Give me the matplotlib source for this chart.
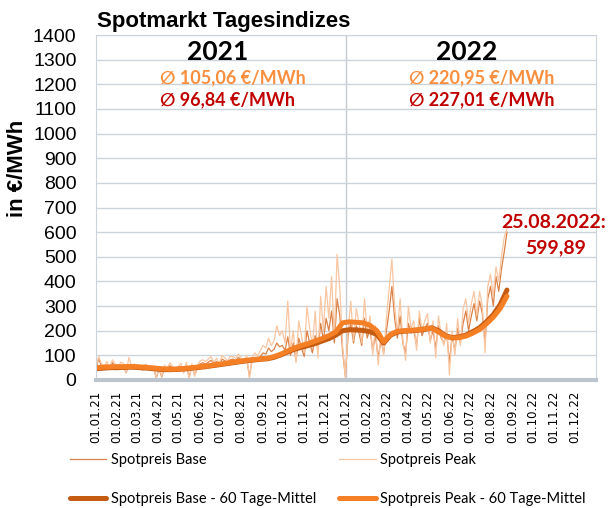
import matplotlib
matplotlib.use('Agg')
import matplotlib.pyplot as plt
import matplotlib.dates as mdates
import pandas as pd

# daily spot prices (every 4th day from 01.01.2021)
base = [45, 88, 55, 50, 62, 48, 70, 55, 42, 60,
        55, 30, 62, 48, 58, 45, 52, 40, 55, 50,
        42, 50, 8, 46, 12, 52, 45, 58, 48, 40,
        50, 55, 35, 60, 10, 58, 20, 48, 65, 70,
        65, 72, 80, 68, 75, 62, 85, 78, 70, 82,
        85, 78, 92, 80, 70, 88, 15, 82, 90, 85,
        95, 110, 105, 130, 115, 125, 150, 135, 140, 120,
        175, 100, 150, 80, 170, 130, 95, 200, 150, 110,
        180, 120, 230, 160, 250, 200, 280, 150, 330, 260,
        120, 15, 180, 230, 150, 220, 190, 140, 250, 170,
        210, 120, 180, 90, 160, 110, 200, 280, 380, 250,
        170, 260, 150, 110, 230, 190, 200, 140, 250, 180,
        210, 230, 160, 200, 130, 220, 170, 150, 190, 70,
        180, 120, 210, 150, 230, 280, 200, 260, 310, 240,
        320, 270, 150, 330, 380, 300, 420, 360, 450, 520,
        600]
peak = [55, 95, 65, 58, 75, 52, 82, 66, 48, 72,
        68, 28, 92, 55, 66, 50, 60, 45, 64, 58,
        48, 58, 5, 52, 15, 60, 50, 70, 55, 45,
        55, 68, 28, 72, 5, 66, 15, 56, 78, 82,
        75, 85, 95, 72, 88, 65, 100, 90, 78, 95,
        95, 88, 105, 90, 75, 100, 5, 92, 110, 98,
        120, 140, 130, 170, 140, 160, 220, 180, 200, 150,
        320, 120, 200, 70, 240, 180, 110, 300, 210, 140,
        280, 90, 340, 200, 380, 250, 420, 170, 510, 370,
        140, 10, 200, 320, 160, 290, 230, 150, 330, 190,
        260, 100, 220, 60, 190, 100, 250, 370, 490, 300,
        190, 330, 160, 80, 300, 210, 240, 120, 280, 200,
        240, 270, 150, 240, 90, 260, 180, 140, 230, 20,
        200, 100, 250, 140, 290, 330, 230, 310, 360, 260,
        360, 300, 110, 380, 430, 340, 460, 400, 500, 580,
        615]

# 60 day means, every 10th day
base_ma = [46, 48, 50, 50, 51, 52, 51, 49, 47, 44,
           42, 42, 43, 45, 48, 51, 54, 58, 62, 66,
           70, 74, 78, 81, 84, 86, 92, 102, 114, 125,
           133, 140, 148, 158, 168, 182, 200, 204, 203, 201,
           196, 185, 150, 182, 195, 198, 200, 202, 205, 212,
           200, 180, 172, 175, 182, 196, 212, 236, 265, 305,
           365]
peak_ma = [50, 52, 53, 54, 54, 55, 54, 52, 50, 47,
           45, 44, 45, 47, 50, 53, 56, 60, 64, 68,
           72, 76, 80, 83, 86, 88, 95, 105, 118, 130,
           140, 148, 158, 168, 180, 195, 232, 236, 234, 232,
           222, 200, 155, 185, 198, 200, 202, 204, 208, 210,
           195, 178, 170, 172, 178, 190, 205, 228, 255, 290,
           340]

days = pd.date_range('2021-01-01', periods=len(base), freq='4D')
ma_days = pd.date_range('2021-01-01', periods=len(base_ma), freq='10D')
months = pd.date_range('2021-01-01', '2022-12-01', freq='MS')

fig = plt.figure(figsize=(6.13, 5.08), dpi=100)
ax = fig.add_axes([96/613, 1-380/508, 500/613, 345/508])

l1, = ax.plot(days, base, color='#DA8248', lw=0.9, label='Spotpreis Base')
l2, = ax.plot(days, peak, color='#F9C6A2', lw=0.9, label='Spotpreis Peak')
l3, = ax.plot(ma_days, base_ma, color='#C55A11', lw=3.6, solid_capstyle='round',
              label='Spotpreis Base - 60 Tage-Mittel')
l4, = ax.plot(ma_days, peak_ma, color='#F57F25', lw=3.6, solid_capstyle='round',
              label='Spotpreis Peak - 60 Tage-Mittel')

ax.set_xlim(pd.Timestamp('2021-01-01'), pd.Timestamp('2023-01-01'))
ax.set_ylim(0, 1400)
ax.set_yticks(range(0, 1401, 100))
ax.set_xticks(months)
ax.xaxis.set_major_formatter(mdates.DateFormatter('%d.%m.%y'))
ax.tick_params(axis='x', length=0, pad=8, labelrotation=90, labelsize=8.5)
ax.tick_params(axis='y', length=0, pad=14, labelsize=14)
for t in ax.get_yticklabels():
    t.set_fontfamily('Liberation Sans')

ax.grid(axis='y', color='#CDD3DA', lw=1)
ax.set_axisbelow(True)
ax.axvline(pd.Timestamp('2022-01-01'), color='#C4CAD1', lw=1, zorder=0)
for s in ['left', 'right', 'top']:
    ax.spines[s].set_color('#CDD3DA')
ax.spines['bottom'].set_color('#BCC5CE')
ax.spines['bottom'].set_linewidth(3)

# headings
fig.text(97/613, 1-22/508, 'Spotmarkt Tagesindizes', fontsize=16, fontweight='bold',
         family='Liberation Sans', va='center')
fig.text(18/613, 1-168/508, 'in €/MWh', rotation=90, fontsize=16, fontweight='bold',
         family='Liberation Sans', ha='center', va='center')

fnt = ['Lato', 'DejaVu Sans']
ax.text(pd.Timestamp('2021-06-27'), 1331, '2021', ha='center', va='center',
        fontsize=19, fontweight='bold', family=fnt)
ax.text(pd.Timestamp('2022-06-26'), 1331, '2022', ha='center', va='center',
        fontsize=19, fontweight='bold', family=fnt)
ax.text(pd.Timestamp('2021-04-05'), 1228, '∅ 105,06 €/MWh', color='#F98F3E',
        fontsize=13, fontweight='bold', family=fnt, va='center')
ax.text(pd.Timestamp('2021-04-05'), 1137, '∅ 96,84 €/MWh', color='#C00000',
        fontsize=13, fontweight='bold', family=fnt, va='center')
ax.text(pd.Timestamp('2022-04-03'), 1228, '∅ 220,95 €/MWh', color='#F98F3E',
        fontsize=13, fontweight='bold', family=fnt, va='center')
ax.text(pd.Timestamp('2022-04-03'), 1137, '∅ 227,01 €/MWh', color='#C00000',
        fontsize=13, fontweight='bold', family=fnt, va='center')

# max value note
ax.text(pd.Timestamp('2022-08-16'), 641, '25.08.2022:', color='#C00000',
        fontsize=14, fontweight='bold', family=fnt, va='center', clip_on=False)
ax.text(pd.Timestamp('2022-12-17'), 536, '599,89', color='#C00000',
        fontsize=14, fontweight='bold', family=fnt, va='center', ha='right')

# legend: column 1 base, column 2 peak
fig.legend(handles=[l1, l3, l2, l4], loc='upper left',
           bbox_to_anchor=(70/613, 1-453/508), ncol=2,
           frameon=False, borderpad=0, borderaxespad=0, handlelength=2.5,
           handletextpad=0.3, columnspacing=1.6, labelspacing=1.7,
           prop={'family': 'Lato', 'size': 10.5})

plt.savefig('out.png', dpi=100)
